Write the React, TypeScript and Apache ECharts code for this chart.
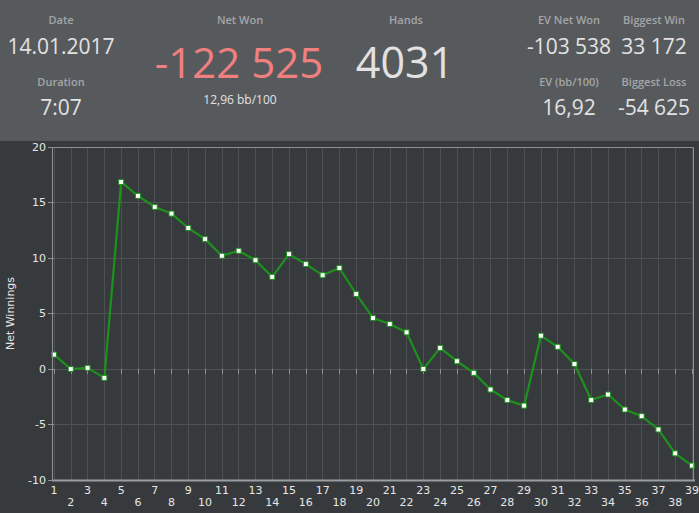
import React, { useEffect, useRef } from "react";
import * as echarts from "echarts";

const categories = Array.from({ length: 39 }, (_, i) => String(i + 1));
const netWinnings = [
  1.3, 0.0, 0.1, -0.8, 16.85, 15.6, 14.6, 14.0, 12.7, 11.7,
  10.2, 10.65, 9.8, 8.3, 10.35, 9.45, 8.45, 9.1, 6.75, 4.6,
  4.05, 3.3, 0.0, 1.9, 0.7, -0.35, -1.85, -2.8, -3.3, 3.0,
  2.0, 0.45, -2.8, -2.3, -3.65, -4.25, -5.45, -7.6, -8.7,
];
const yTicks = { min: -10, max: 20, interval: 5 };

const headerLabels = [
  { text: "Date", x: 61, y: 19 },
  { text: "Duration", x: 61, y: 81 },
  { text: "Net Won", x: 240, y: 19 },
  { text: "Hands", x: 406, y: 19 },
  { text: "EV Net Won", x: 569, y: 19 },
  { text: "Biggest Win", x: 654, y: 19 },
  { text: "EV (bb/100)", x: 569, y: 81 },
  { text: "Biggest Loss", x: 654, y: 81 },
];
const headerValues = [
  { text: "14.01.2017", x: 61, y: 46, size: 21, color: "#e2e2e2" },
  { text: "7:07", x: 61, y: 107, size: 21, color: "#e2e2e2" },
  { text: "-122 525", x: 239, y: 61, size: 42, color: "#f07f7f" },
  { text: "12,96 bb/100", x: 240, y: 99, size: 12, color: "#e2e2e2" },
  { text: "4031", x: 405, y: 61, size: 43, color: "#e2e2e2" },
  { text: "-103 538", x: 569, y: 46, size: 21, color: "#e2e2e2" },
  { text: "33 172", x: 654, y: 46, size: 21, color: "#e2e2e2" },
  { text: "16,92", x: 569, y: 107, size: 21, color: "#e2e2e2" },
  { text: "-54 625", x: 654, y: 107, size: 21, color: "#e2e2e2" },
];

export default function App() {
  const ref = useRef<HTMLDivElement>(null);
  useEffect(() => {
    if (!ref.current) return;
    const chart = echarts.init(ref.current, null, { renderer: "svg" });
    const headerFont = "'Open Sans', 'Noto Sans', sans-serif";
    const graphics: any[] = [
      {
        type: "rect",
        left: 0,
        top: 0,
        z: -10,
        shape: { x: 0, y: 0, width: 699, height: 141 },
        style: { fill: "#575a5d" },
        silent: true,
      },
      {
        type: "rect",
        z: 10,
        shape: { x: 52.5, y: 147.5, width: 641, height: 333 },
        style: { fill: "none", stroke: "#8e9194", lineWidth: 1 },
        silent: true,
      },
      {
        type: "line",
        z: 11,
        shape: { x1: 52, y1: 480.5, x2: 695, y2: 480.5 },
        style: { stroke: "#9a9da0", lineWidth: 2 },
        silent: true,
      },
    ];
    headerLabels.forEach((l) =>
      graphics.push({
        type: "text",
        x: l.x,
        y: l.y,
        style: {
          text: l.text,
          fill: "#a4a6a8",
          font: `600 11px ${headerFont}`,
          align: "center",
          verticalAlign: "middle",
        },
      })
    );
    headerValues.forEach((v) =>
      graphics.push({
        type: "text",
        x: v.x,
        y: v.y,
        style: {
          text: v.text,
          fill: v.color,
          font: `${v.size}px ${headerFont}`,
          align: "center",
          verticalAlign: "middle",
        },
      })
    );

    chart.setOption({
      animation: false,
      backgroundColor: "#373a3d",
      grid: {
        left: 54,
        top: 147,
        width: 638,
        height: 333,
        containLabel: false,
        outerBoundsMode: "none",
      },
      xAxis: {
        type: "category",
        data: categories,
        boundaryGap: false,
        axisLine: { show: false },
        axisTick: { show: true, interval: 0, length: 5, lineStyle: { color: "#8e9194" } },
        axisLabel: {
          interval: 0,
          margin: 4,
          color: "#e6e6e6",
          fontSize: 11,
          fontFamily: "'DejaVu Sans', Verdana, sans-serif",
          lineHeight: 12,
          formatter: (v: string, i: number) => (i % 2 === 1 ? "\n" + v : v),
        },
        splitLine: { show: true, interval: 0, lineStyle: { color: "#4d5053", width: 1 } },
      },
      yAxis: {
        type: "value",
        min: yTicks.min,
        max: yTicks.max,
        interval: yTicks.interval,
        name: "Net Winnings",
        nameLocation: "middle",
        nameGap: 38,
        nameTextStyle: { color: "#e6e6e6", fontSize: 11, fontFamily: "'DejaVu Sans', Verdana, sans-serif" },
        axisLine: { show: false },
        axisTick: { show: true, length: 6, lineStyle: { color: "#8e9194" } },
        axisLabel: {
          margin: 8,
          color: "#e6e6e6",
          fontSize: 11,
          fontFamily: "'DejaVu Sans', Verdana, sans-serif",
        },
        splitLine: { show: true, lineStyle: { color: "#4f5255", width: 1 } },
      },
      series: [
        {
          type: "line",
          data: netWinnings,
          symbol: "rect",
          symbolSize: 5,
          lineStyle: { color: "#1c921c", width: 2.2 },
          itemStyle: { color: "#ffffff", borderColor: "#1c921c", borderWidth: 1 },
          z: 5,
        },
      ],
      graphic: graphics,
    });
    return () => chart.dispose();
  }, []);
  return (
    <div
      ref={ref}
      style={{ position: "fixed", left: 0, top: 0, width: 699, height: 513 }}
    />
  );
}
